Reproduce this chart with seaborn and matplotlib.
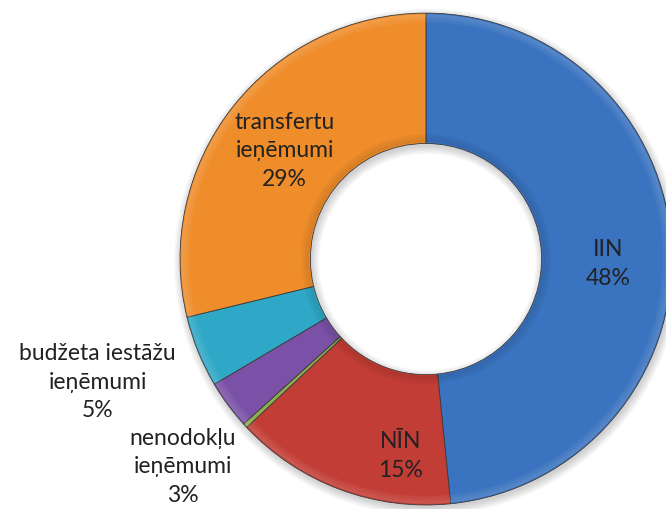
import seaborn as sns
import matplotlib.pyplot as plt
import numpy as np

# daļas (%), sākot no augšas pulksteņrādītāja virzienā
labels = ["IIN", "NĪN", "citi", "nenodokļu\nieņēmumi", "budžeta iestāžu\nieņēmumi", "transfertu\nieņēmumi"]
values = [48.4, 14.6, 0.3, 3.2, 4.7, 28.8]
shown = [True, True, False, True, True, True]
colors = ["#3a73bf", "#c23d35", "#8fae4c", "#7a51a6", "#2fa7c6", "#ef8d2b"]

# teksta vietas (pīrāga koordinātās, rādiuss = 1)
label_xy = [(0.74, -0.02), (-0.105, -0.80), None, (-0.99, -0.845), (-1.335, -0.50), (-0.575, 0.44)]

sns.set_theme(style="white")
plt.rcParams["font.family"] = ["Lato", "DejaVu Sans"]

fig = plt.figure(figsize=(6.66, 5.09), dpi=100)
ax = fig.add_axes([0, 0, 1, 1])

ring = 0.53

# mīksta ēna zem gredzena
for k in range(6):
    ax.pie([1], radius=1.0 + 0.006 * k, colors=["black"], center=(0.006, -0.012),
           wedgeprops=dict(width=ring + 0.012 * k, alpha=0.03, linewidth=0))

wedges, _ = ax.pie(values, colors=colors, startangle=90, counterclock=False,
                   radius=1.0, wedgeprops=dict(width=ring, edgecolor="#3a3a3a",
                                               linewidth=0.6))

# vienkāršs "bevel" efekts - gaiša josla ārmalā, tumšāka iekšmalā
for w in wedges:
    t1, t2 = w.theta1, w.theta2
    for k in range(4):
        ax.pie([t2 - t1, 360 - (t2 - t1)], radius=0.995 - 0.008 * k, startangle=t1,
               counterclock=True, colors=["white", "none"],
               wedgeprops=dict(width=0.008, alpha=0.14 - 0.03 * k, linewidth=0))
        ax.pie([t2 - t1, 360 - (t2 - t1)], radius=1 - ring + 0.013 + 0.008 * k, startangle=t1,
               counterclock=True, colors=["black", "none"],
               wedgeprops=dict(width=0.008, alpha=0.10 - 0.022 * k, linewidth=0))

for i, (lab, v) in enumerate(zip(labels, values)):
    if not shown[i]:
        continue
    x, y = label_xy[i]
    ax.text(x, y, f"{lab}\n{v:.0f}%", ha="center", va="center",
            fontsize=16.5, color="#222222", linespacing=1.45)

ax.set_xlim(-1.732, 0.976)
ax.set_ylim(-1.016, 1.053)
ax.set_aspect("equal")
ax.axis("off")

plt.savefig("out.png", dpi=100)
